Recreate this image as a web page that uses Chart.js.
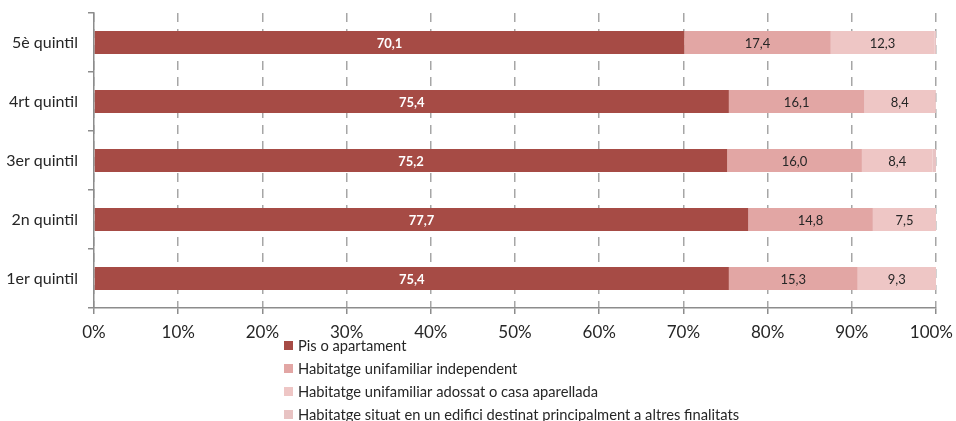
<!DOCTYPE html>
<html><head><meta charset="utf-8">
<script src="https://cdn.jsdelivr.net/npm/chart.js@4/dist/chart.umd.min.js"></script>
<style>html,body{margin:0;padding:0;background:#fff}#wrap{width:956px;height:421px}</style>
</head><body><div id="wrap"><canvas id="c" width="956" height="421"></canvas></div>
<script>
const categories = ['5è quintil','4rt quintil','3er quintil','2n quintil','1er quintil'];
const seriesNames = ['Pis o apartament','Habitatge unifamiliar independent','Habitatge unifamiliar adossat o casa aparellada','Habitatge situat en un edifici destinat principalment a altres finalitats'];
const pisApartament = [70.1, 75.4, 75.2, 77.7, 75.4];
const unifamiliarIndependent = [17.4, 16.1, 16.0, 14.8, 15.3];
const unifamiliarAdossat = [12.3, 8.4, 8.4, 7.5, 9.3];
const altresFinalitats = [0.2, 0.1, 0.4, 0.0, 0.0];
const xTicks = [0,10,20,30,40,50,60,70,80,90,100];
const colors = ['#A64B45','#E2A6A4','#EEC6C5','#E8C3C3'];

const FONT = 'Lato, "Open Sans", sans-serif';

const labelPlugin = {
  id:'barLabels',
  afterDatasetsDraw(chart){
    const ctx = chart.ctx;
    chart.data.datasets.forEach((ds, di) => {
      if (di === 3) return;
      const meta = chart.getDatasetMeta(di);
      meta.data.forEach((bar, i) => {
        const v = ds.data[i];
        const cx = (bar.x + bar.base) / 2;
        ctx.save();
        ctx.textAlign = 'center';
        ctx.textBaseline = 'middle';
        if (di === 0) { ctx.fillStyle = '#ffffff'; ctx.font = 'bold 13px ' + FONT; }
        else { ctx.fillStyle = '#262626'; ctx.font = '13px ' + FONT; }
        ctx.fillText(v.toFixed(1).replace('.', ','), cx, bar.y + 1);
        ctx.restore();
      });
    });
  }
};

// keep the last x tick label inside the canvas (right-aligned), as in the original
const lastTickFit = {
  id:'lastTickFit',
  beforeDraw(chart){
    const sc = chart.scales.x;
    const items = sc.getLabelItems();
    if (!items.length) return;
    const last = items[items.length - 1];
    const w = 956 - 3;
    last.options.textAlign = 'right';
    last.options.translation = [w, last.options.translation[1]];
  }
};

const legendPlugin = {
  id:'vLegend',
  afterDraw(chart){
    const ctx = chart.ctx;
    const x0 = 284, y0 = 345, step = 23;
    chart.data.datasets.forEach((ds, i) => {
      const y = y0 + i*step;
      ctx.save();
      ctx.fillStyle = ds.backgroundColor;
      ctx.fillRect(x0, y - 4, 9, 9);
      ctx.fillStyle = '#262626';
      ctx.font = '14.7px ' + FONT;
      ctx.textBaseline = 'middle';
      ctx.textAlign = 'left';
      ctx.fillText(ds.label, x0 + 14, y + 1);
      ctx.restore();
    });
  }
};

new Chart(document.getElementById('c'), {
  type:'bar',
  data:{
    labels: categories,
    datasets:[
      {label: seriesNames[0], data: pisApartament, backgroundColor: colors[0]},
      {label: seriesNames[1], data: unifamiliarIndependent, backgroundColor: colors[1]},
      {label: seriesNames[2], data: unifamiliarAdossat, backgroundColor: colors[2]},
      {label: seriesNames[3], data: altresFinalitats, backgroundColor: colors[3]}
    ]
  },
  options:{
    indexAxis:'y',
    responsive:false,
    animation:false,
    layout:{padding:{left:0, right:20, top:13, bottom:83}},
    datasets:{bar:{categoryPercentage:1, barPercentage:0.39, borderWidth:0}},
    plugins:{legend:{display:false}, tooltip:{enabled:false}},
    scales:{
      x:{
        stacked:true, min:0, max:100,
        afterBuildTicks(scale){ scale.ticks = xTicks.map(v => ({value:v})); },
        afterFit(scale){ scale.height = 30; scale.paddingLeft = 0; scale.paddingRight = 0; },
        grid:{color:'#a6a6a6', lineWidth:1.5, tickLength:6, drawTicks:true, tickColor:'#8c8c8c'},
        border:{display:true, color:'#8c8c8c', width:1.5, dash:[9,7]},
        ticks:{padding:8, color:'#262626', font:{family:FONT, size:17}, callback:(v)=> v + '%'}
      },
      y:{
        stacked:true,
        afterFit(scale){ scale.width = 94; scale.paddingTop = 0; scale.paddingBottom = 0; },
        border:{display:true, color:'#8c8c8c', width:1.5},
        grid:{offset:true, drawOnChartArea:false, tickLength:6, color:'#8c8c8c', lineWidth:1.5},
        ticks:{padding:10, color:'#262626', font:{family:FONT, size:16}}
      }
    }
  },
  plugins:[labelPlugin, lastTickFit, legendPlugin]
});
</script></body></html>
